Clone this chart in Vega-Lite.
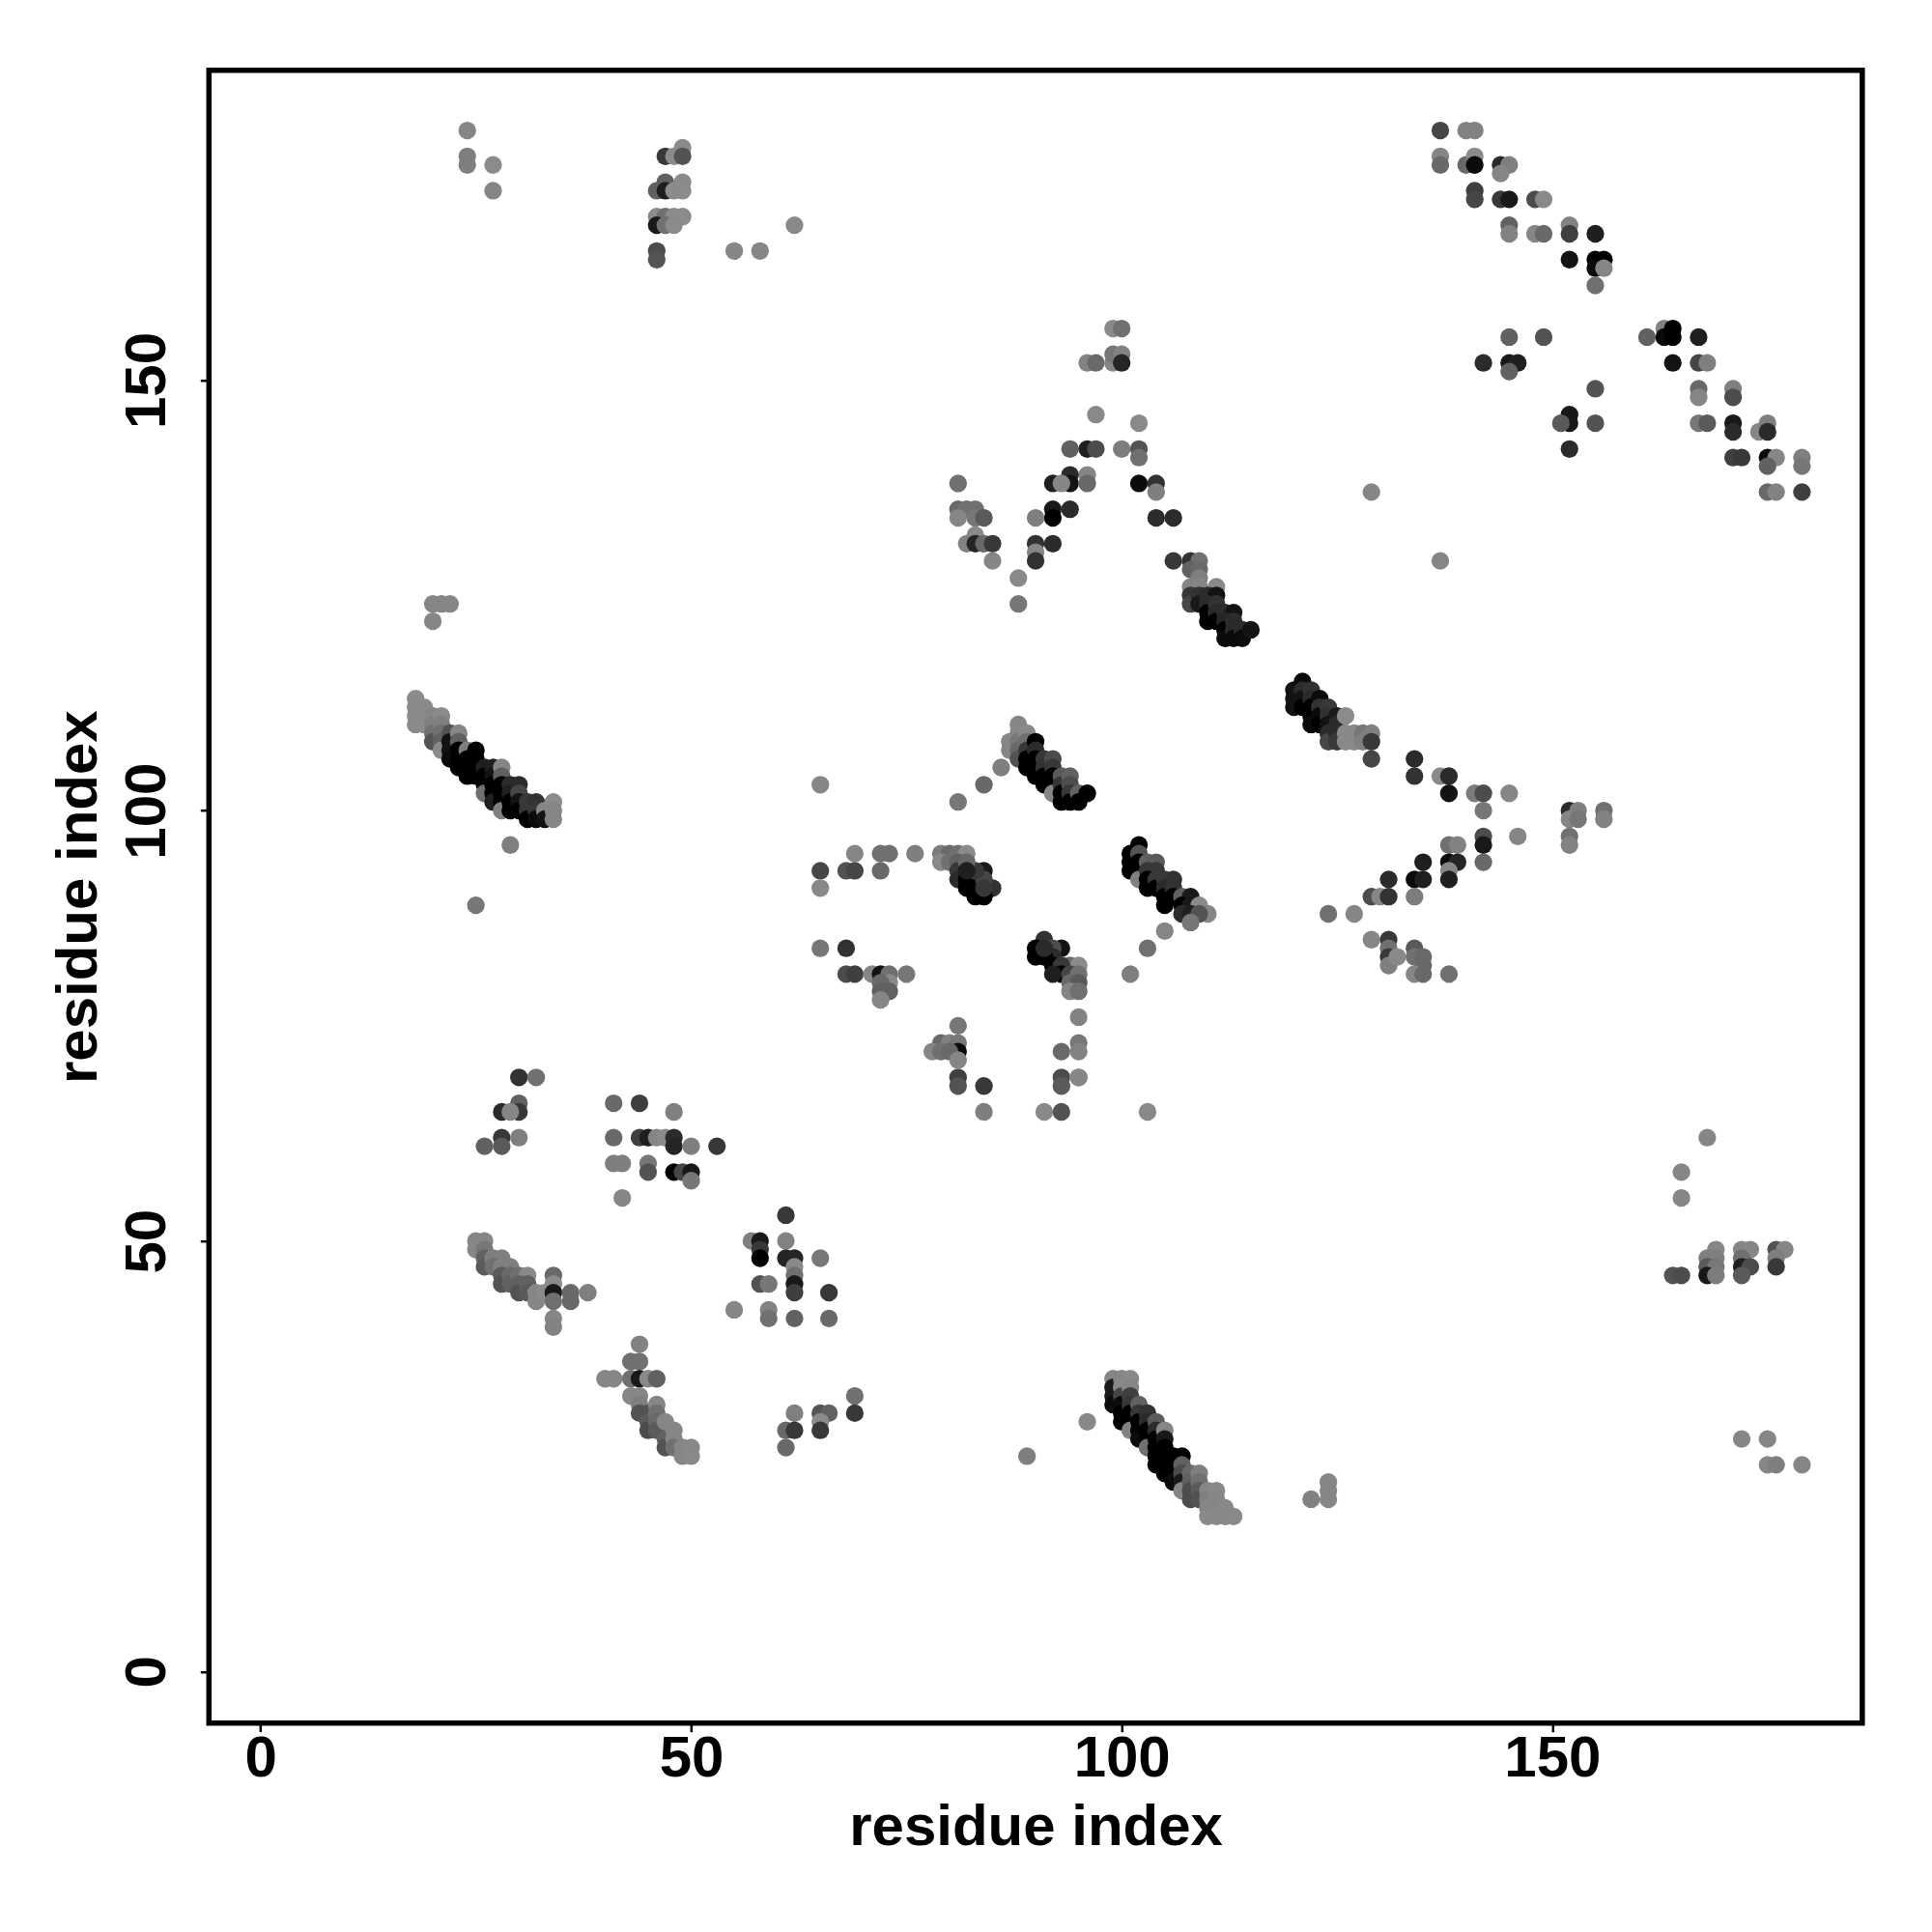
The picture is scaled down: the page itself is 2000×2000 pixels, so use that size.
{"$schema":"https://vega.github.io/schema/vega-lite/v6.json","autosize":{"type":"none"},"padding":{"left":216.3,"top":72.7,"right":72,"bottom":215},"width":1711.5,"height":1711,"background":"white",
"config":{"view":{"stroke":"black","strokeWidth":5.5,"fill":"white"},"axis":{"grid":false,"domain":false,"ticks":true,"tickSize":9,"tickWidth":2.5,"tickColor":"black","labelFont":"Liberation Sans","labelFontWeight":"bold","labelFontSize":60,"labelColor":"black","titleFont":"Liberation Sans","titleFontWeight":"bold","titleFontSize":60,"titleColor":"black","labelOverlap":false,"labelFlush":false}},
"data":{"values":[
{"i":24,"j":179,"s":0.05},{"i":24,"j":176,"s":0.1},{"i":24,"j":175,"s":0.1},{"i":27,"j":175,"s":0.02},{"i":27,"j":172,"s":0.05},
{"i":49,"j":177,"s":0.02},{"i":47,"j":176,"s":0.6},{"i":48,"j":176,"s":0.02},{"i":49,"j":176,"s":0.4},
{"i":47,"j":173,"s":0.3},{"i":49,"j":173,"s":0.02},{"i":46,"j":172,"s":0.3},{"i":47,"j":172,"s":0.8},{"i":48,"j":172,"s":0.02},{"i":49,"j":172,"s":0.02},
{"i":46,"j":169,"s":0.02},{"i":47,"j":169,"s":0.2},{"i":48,"j":169,"s":0.02},{"i":49,"j":169,"s":0.02},{"i":46,"j":168,"s":0.85},{"i":47,"j":168,"s":0.2},{"i":48,"j":168,"s":0.02},
{"i":46,"j":165,"s":0.45},{"i":46,"j":164,"s":0.4},{"i":62,"j":168,"s":0.03},{"i":55,"j":165,"s":0.05},{"i":58,"j":165,"s":0.05},
{"i":20,"j":124,"s":0.05},{"i":21,"j":124,"s":0.05},{"i":22,"j":124,"s":0.05},{"i":20,"j":122,"s":0.05},
{"i":18,"j":113,"s":0.02},{"i":18,"j":112,"s":0.02},{"i":18,"j":111,"s":0.02},{"i":18,"j":110,"s":0.02},{"i":19,"j":112,"s":0.02},{"i":19,"j":111,"s":0.02},{"i":19,"j":110,"s":0.02},
{"i":20,"j":111,"s":0.05},{"i":20,"j":110,"s":0.1},{"i":20,"j":109,"s":0.2},{"i":20,"j":108,"s":0.4},{"i":21,"j":111,"s":0.02},{"i":21,"j":110,"s":0.1},{"i":21,"j":109,"s":0.2},{"i":21,"j":108,"s":0.3},{"i":21,"j":107,"s":0.02},
{"i":22,"j":109,"s":0.4},{"i":22,"j":108,"s":0.9},{"i":22,"j":107,"s":0.9},{"i":22,"j":106,"s":0.95},{"i":23,"j":109,"s":0.05},{"i":23,"j":108,"s":0.3},{"i":23,"j":107,"s":1},{"i":23,"j":106,"s":1},{"i":23,"j":105,"s":1},
{"i":24,"j":107,"s":0.1},{"i":24,"j":106,"s":1},{"i":24,"j":105,"s":1},{"i":24,"j":104,"s":1},{"i":25,"j":107,"s":1},{"i":25,"j":106,"s":1},{"i":25,"j":105,"s":1},{"i":25,"j":104,"s":1},
{"i":26,"j":105,"s":0.8},{"i":26,"j":104,"s":1},{"i":26,"j":103,"s":1},{"i":26,"j":102,"s":0.2},{"i":27,"j":105,"s":0.8},{"i":27,"j":104,"s":0.9},{"i":27,"j":103,"s":1},{"i":27,"j":102,"s":1},{"i":27,"j":101,"s":0.8},
{"i":28,"j":105,"s":0.05},{"i":28,"j":104,"s":0.3},{"i":28,"j":103,"s":1},{"i":28,"j":102,"s":1},{"i":28,"j":101,"s":1},{"i":28,"j":100,"s":0.1},
{"i":29,"j":103,"s":0.7},{"i":29,"j":102,"s":0.8},{"i":29,"j":101,"s":1},{"i":29,"j":100,"s":1},{"i":30,"j":103,"s":0.7},{"i":30,"j":102,"s":0.5},{"i":30,"j":101,"s":0.9},{"i":30,"j":100,"s":1},
{"i":31,"j":101,"s":0.6},{"i":31,"j":100,"s":0.6},{"i":31,"j":99,"s":1},{"i":32,"j":101,"s":0.65},{"i":32,"j":100,"s":0.6},{"i":32,"j":99,"s":0.95},{"i":33,"j":100,"s":0.05},{"i":33,"j":99,"s":0.9},{"i":34,"j":101,"s":0.02},{"i":34,"j":100,"s":0.05},{"i":34,"j":99,"s":0.05},
{"i":29,"j":96,"s":0.1},{"i":25,"j":89,"s":0.15},
{"i":30,"j":69,"s":0.65},{"i":32,"j":69,"s":0.2},{"i":30,"j":66,"s":0.3},{"i":30,"j":65,"s":0.6},{"i":28,"j":65,"s":0.7},{"i":29,"j":65,"s":0.05},{"i":28,"j":62,"s":0.6},{"i":30,"j":62,"s":0.1},{"i":28,"j":61,"s":0.35},{"i":26,"j":61,"s":0.3},
{"i":41,"j":66,"s":0.25},{"i":44,"j":66,"s":0.55},{"i":48,"j":65,"s":0.1},{"i":41,"j":62,"s":0.25},{"i":44,"j":62,"s":0.55},{"i":45,"j":62,"s":0.8},{"i":46,"j":62,"s":0.05},{"i":47,"j":62,"s":0.02},{"i":48,"j":62,"s":0.7},{"i":48,"j":61,"s":0.75},{"i":50,"j":61,"s":0.1},{"i":53,"j":61,"s":0.6},
{"i":41,"j":59,"s":0.1},{"i":42,"j":59,"s":0.1},{"i":45,"j":59,"s":0.15},{"i":45,"j":58,"s":0.4},{"i":48,"j":58,"s":1},{"i":49,"j":58,"s":0.5},{"i":50,"j":58,"s":0.85},{"i":50,"j":57,"s":0.15},{"i":42,"j":55,"s":0.05},
{"i":61,"j":53,"s":0.6},{"i":57,"j":50,"s":0.1},{"i":58,"j":50,"s":0.85},{"i":61,"j":50,"s":0.08},{"i":58,"j":49,"s":0.6},{"i":58,"j":48,"s":1},{"i":61,"j":48,"s":0.75},{"i":62,"j":48,"s":0.75},{"i":65,"j":48,"s":0.15},
{"i":62,"j":47,"s":0.03},{"i":62,"j":46,"s":0.2},{"i":58,"j":45,"s":0.4},{"i":59,"j":45,"s":0.15},{"i":62,"j":45,"s":0.85},{"i":62,"j":44,"s":0.55},{"i":66,"j":44,"s":0.6},{"i":55,"j":42,"s":0.05},{"i":59,"j":42,"s":0.08},{"i":59,"j":41,"s":0.2},{"i":62,"j":41,"s":0.3},{"i":66,"j":41,"s":0.25},
{"i":25,"j":50,"s":0.05},{"i":26,"j":50,"s":0.05},{"i":25,"j":49,"s":0.05},{"i":26,"j":49,"s":0.15},{"i":26,"j":48,"s":0.3},{"i":26,"j":47,"s":0.35},{"i":27,"j":48,"s":0.1},{"i":28,"j":48,"s":0.1},{"i":27,"j":47,"s":0.2},{"i":28,"j":47,"s":0.1},{"i":29,"j":47,"s":0.1},
{"i":28,"j":46,"s":0.35},{"i":28,"j":45,"s":0.4},{"i":29,"j":46,"s":0.25},{"i":29,"j":45,"s":0.3},{"i":30,"j":46,"s":0.2},{"i":31,"j":46,"s":0.03},{"i":30,"j":45,"s":0.3},{"i":30,"j":44,"s":0.4},{"i":31,"j":45,"s":0.3},{"i":31,"j":44,"s":0.35},
{"i":32,"j":44,"s":0.05},{"i":32,"j":43,"s":0.05},{"i":33,"j":44,"s":0.02},{"i":34,"j":46,"s":0.25},{"i":34,"j":45,"s":0.02},{"i":34,"j":44,"s":0.85},{"i":34,"j":43,"s":0.2},{"i":34,"j":41,"s":0.05},{"i":34,"j":40,"s":0.08},{"i":36,"j":44,"s":0.25},{"i":36,"j":43,"s":0.25},{"i":38,"j":44,"s":0.1},
{"i":44,"j":38,"s":0.08},{"i":43,"j":36,"s":0.2},{"i":44,"j":36,"s":0.2},{"i":40,"j":34,"s":0.05},{"i":41,"j":34,"s":0.05},{"i":43,"j":34,"s":0.2},{"i":44,"j":34,"s":0.85},{"i":45,"j":34,"s":0.03},{"i":46,"j":34,"s":0.3},
{"i":43,"j":32,"s":0.05},{"i":44,"j":32,"s":0.05},{"i":44,"j":31,"s":0.1},{"i":44,"j":30,"s":0.4},{"i":45,"j":30,"s":0.4},{"i":45,"j":29,"s":0.35},{"i":45,"j":28,"s":0.45},{"i":46,"j":31,"s":0.05},{"i":46,"j":30,"s":0.2},{"i":46,"j":29,"s":0.25},{"i":46,"j":28,"s":0.35},{"i":47,"j":29,"s":0.05},{"i":47,"j":27,"s":0.3},{"i":47,"j":26,"s":0.4},{"i":48,"j":28,"s":0.05},{"i":48,"j":27,"s":0.05},{"i":48,"j":26,"s":0.2},{"i":49,"j":26,"s":0.05},{"i":49,"j":25,"s":0.05},{"i":50,"j":26,"s":0.03},{"i":50,"j":25,"s":0.03},
{"i":69,"j":32,"s":0.2},{"i":69,"j":30,"s":0.6},{"i":62,"j":30,"s":0.1},{"i":65,"j":30,"s":0.4},{"i":66,"j":30,"s":0.3},{"i":65,"j":29,"s":0.02},{"i":65,"j":28,"s":0.6},{"i":61,"j":28,"s":0.25},{"i":62,"j":28,"s":0.6},{"i":61,"j":26,"s":0.25},
{"i":81,"j":69,"s":0.55},{"i":81,"j":68,"s":0.4},{"i":84,"j":68,"s":0.6},{"i":84,"j":65,"s":0.1},{"i":91,"j":65,"s":0.03},{"i":93,"j":65,"s":0.4},{"i":93,"j":69,"s":0.45},{"i":93,"j":68,"s":0.35},{"i":95,"j":69,"s":0.05},{"i":103,"j":65,"s":0.03},{"i":96,"j":29,"s":0.03},{"i":89,"j":25,"s":0.1},
{"i":99,"j":34,"s":0.05},{"i":99,"j":33,"s":0.85},{"i":99,"j":32,"s":0.85},{"i":99,"j":31,"s":0.95},{"i":100,"j":34,"s":0.05},{"i":100,"j":33,"s":0.03},{"i":100,"j":32,"s":0.5},{"i":100,"j":31,"s":0.95},{"i":100,"j":30,"s":1},{"i":100,"j":29,"s":1},
{"i":101,"j":34,"s":0.03},{"i":101,"j":33,"s":0.05},{"i":101,"j":32,"s":0.55},{"i":101,"j":31,"s":0.6},{"i":101,"j":30,"s":1},{"i":101,"j":29,"s":1},{"i":101,"j":28,"s":0.08},{"i":102,"j":31,"s":0.3},{"i":102,"j":30,"s":0.6},{"i":102,"j":29,"s":1},{"i":102,"j":28,"s":1},{"i":102,"j":27,"s":0.95},
{"i":103,"j":30,"s":0.65},{"i":103,"j":29,"s":0.7},{"i":103,"j":28,"s":1},{"i":103,"j":27,"s":1},{"i":103,"j":26,"s":0.2},{"i":104,"j":29,"s":0.35},{"i":104,"j":28,"s":0.7},{"i":104,"j":27,"s":1},{"i":104,"j":26,"s":1},{"i":104,"j":25,"s":1},{"i":104,"j":24,"s":1},
{"i":105,"j":28,"s":0.05},{"i":105,"j":27,"s":0.85},{"i":105,"j":26,"s":1},{"i":105,"j":25,"s":1},{"i":105,"j":24,"s":1},{"i":105,"j":23,"s":1},{"i":106,"j":25,"s":1},{"i":106,"j":24,"s":1},{"i":106,"j":23,"s":1},{"i":106,"j":22,"s":0.95},{"i":107,"j":25,"s":1},{"i":107,"j":24,"s":0.3},{"i":107,"j":23,"s":0.45},{"i":107,"j":22,"s":0.85},{"i":107,"j":21,"s":0.05},
{"i":108,"j":23,"s":0.25},{"i":108,"j":22,"s":0.3},{"i":108,"j":21,"s":0.45},{"i":108,"j":20,"s":0.45},{"i":109,"j":23,"s":0.1},{"i":109,"j":22,"s":0.2},{"i":109,"j":21,"s":0.35},{"i":109,"j":20,"s":0.4},{"i":110,"j":21,"s":0.05},{"i":110,"j":20,"s":0.1},{"i":110,"j":19,"s":0.05},{"i":110,"j":18,"s":0.03},{"i":111,"j":21,"s":0.03},{"i":111,"j":20,"s":0.05},{"i":111,"j":19,"s":0.05},{"i":111,"j":18,"s":0.03},{"i":112,"j":19,"s":0.03},{"i":112,"j":18,"s":0.03},{"i":113,"j":18,"s":0.03},
{"i":122,"j":20,"s":0.08},{"i":124,"j":22,"s":0.05},{"i":124,"j":21,"s":0.05},{"i":124,"j":20,"s":0.05},
{"i":65,"j":103,"s":0.05},{"i":86,"j":105,"s":0.1},{"i":84,"j":103,"s":0.25},{"i":81,"j":101,"s":0.15},
{"i":69,"j":95,"s":0.05},{"i":72,"j":95,"s":0.2},{"i":73,"j":95,"s":0.2},{"i":76,"j":95,"s":0.1},{"i":79,"j":95,"s":0.12},{"i":80,"j":95,"s":0.25},{"i":81,"j":95,"s":0.2},{"i":82,"j":95,"s":0.02},{"i":65,"j":93,"s":0.5},{"i":68,"j":93,"s":0.4},{"i":69,"j":93,"s":0.5},{"i":72,"j":93,"s":0.25},{"i":65,"j":91,"s":0.03},{"i":79,"j":94,"s":0.03},{"i":80,"j":94,"s":0.2},{"i":81,"j":94,"s":0.3},{"i":81,"j":93,"s":0.6},{"i":84,"j":93,"s":0.85},{"i":81,"j":92,"s":0.7},{"i":85,"j":91,"s":0.65},{"i":83,"j":90,"s":1},{"i":84,"j":90,"s":1},{"i":82,"j":92,"s":1},{"i":82,"j":91,"s":1},{"i":83,"j":91,"s":1},{"i":84,"j":92,"s":0.5},{"i":84,"j":91,"s":0.6},{"i":83,"j":93,"s":0.6},{"i":82,"j":94,"s":0.25},{"i":82,"j":93,"s":0.8},
{"i":65,"j":84,"s":0.15},{"i":68,"j":84,"s":0.65},{"i":68,"j":81,"s":0.45},{"i":69,"j":81,"s":0.55},{"i":71,"j":81,"s":0.05},{"i":72,"j":81,"s":0.9},{"i":73,"j":81,"s":0.2},{"i":75,"j":81,"s":0.15},{"i":73,"j":80,"s":0.03},{"i":72,"j":80,"s":0.25},{"i":72,"j":79,"s":0.3},{"i":73,"j":79,"s":0.3},{"i":72,"j":78,"s":0.05},
{"i":81,"j":75,"s":0.15},{"i":79,"j":73,"s":0.25},{"i":80,"j":73,"s":0.1},{"i":81,"j":73,"s":0.15},{"i":81,"j":72,"s":0.95},{"i":78,"j":72,"s":0.05},{"i":79,"j":72,"s":0.2},{"i":80,"j":72,"s":0.25},{"i":81,"j":71,"s":0.05},{"i":93,"j":72,"s":0.25},{"i":95,"j":73,"s":0.15},{"i":95,"j":72,"s":0.08},{"i":95,"j":76,"s":0.08},{"i":95,"j":69,"s":0.05},
{"i":91,"j":85,"s":0.65},{"i":90,"j":84,"s":1},{"i":93,"j":84,"s":0.9},{"i":90,"j":83,"s":1},{"i":92,"j":84,"s":0.45},{"i":92,"j":83,"s":0.7},{"i":91,"j":83,"s":1},{"i":91,"j":84,"s":0.7},{"i":92,"j":82,"s":1},{"i":94,"j":82,"s":0.25},{"i":95,"j":82,"s":0.02},{"i":93,"j":82,"s":0.6},{"i":93,"j":81,"s":1},{"i":92,"j":81,"s":0.8},{"i":94,"j":81,"s":0.5},{"i":95,"j":81,"s":0.2},{"i":94,"j":80,"s":0.25},{"i":95,"j":80,"s":0.35},{"i":94,"j":79,"s":0.05},{"i":95,"j":79,"s":0.2},
{"i":102,"j":96,"s":1},{"i":101,"j":95,"s":1},{"i":101,"j":94,"s":1},{"i":101,"j":93,"s":1},{"i":102,"j":95,"s":0.4},{"i":102,"j":94,"s":1},{"i":102,"j":93,"s":1},{"i":102,"j":92,"s":0.1},{"i":103,"j":94,"s":0.3},{"i":104,"j":94,"s":0.35},{"i":103,"j":93,"s":0.6},{"i":104,"j":93,"s":0.6},{"i":103,"j":92,"s":1},{"i":103,"j":91,"s":1},{"i":104,"j":92,"s":0.6},{"i":104,"j":91,"s":1},{"i":105,"j":92,"s":0.6},{"i":106,"j":92,"s":0.65},{"i":105,"j":91,"s":0.7},{"i":105,"j":90,"s":1},{"i":105,"j":89,"s":1},{"i":106,"j":91,"s":0.65},{"i":106,"j":90,"s":1},{"i":107,"j":90,"s":0.3},{"i":108,"j":90,"s":0.85},{"i":107,"j":89,"s":1},{"i":108,"j":89,"s":0.85},{"i":109,"j":89,"s":0.02},{"i":107,"j":88,"s":0.7},{"i":108,"j":88,"s":0.8},{"i":110,"j":88,"s":0.05},{"i":109,"j":88,"s":0.4},{"i":108,"j":87,"s":0.15},{"i":105,"j":86,"s":0.05},{"i":103,"j":84,"s":0.2},{"i":101,"j":81,"s":0.1},
{"i":87,"j":108,"s":0.05},{"i":87,"j":107,"s":0.05},{"i":88,"j":110,"s":0.05},{"i":88,"j":109,"s":0.05},{"i":88,"j":108,"s":0.15},{"i":88,"j":107,"s":0.25},{"i":88,"j":106,"s":0.4},{"i":89,"j":109,"s":0.03},{"i":89,"j":108,"s":0.2},{"i":89,"j":107,"s":0.6},{"i":89,"j":106,"s":1},{"i":89,"j":105,"s":1},{"i":90,"j":108,"s":1},{"i":90,"j":107,"s":0.7},{"i":90,"j":106,"s":1},{"i":90,"j":105,"s":1},{"i":90,"j":104,"s":1},{"i":91,"j":106,"s":0.6},{"i":91,"j":105,"s":0.65},{"i":91,"j":104,"s":1},{"i":91,"j":103,"s":1},{"i":92,"j":106,"s":0.45},{"i":92,"j":105,"s":0.6},{"i":92,"j":104,"s":1},{"i":92,"j":103,"s":1},{"i":92,"j":102,"s":0.05},{"i":93,"j":104,"s":0.35},{"i":93,"j":103,"s":0.6},{"i":93,"j":102,"s":1},{"i":93,"j":101,"s":1},{"i":94,"j":104,"s":0.3},{"i":94,"j":103,"s":0.45},{"i":94,"j":102,"s":0.6},{"i":94,"j":101,"s":1},{"i":95,"j":102,"s":0.3},{"i":95,"j":101,"s":1},{"i":96,"j":102,"s":1},
{"i":99,"j":156,"s":0.03},{"i":100,"j":156,"s":0.2},{"i":96,"j":152,"s":0.08},{"i":97,"j":152,"s":0.25},{"i":99,"j":152,"s":0.05},{"i":99,"j":153,"s":0.15},{"i":100,"j":153,"s":0.08},{"i":100,"j":152,"s":0.75},{"i":97,"j":146,"s":0.03},{"i":102,"j":145,"s":0.03},{"i":94,"j":142,"s":0.3},{"i":96,"j":142,"s":0.8},{"i":97,"j":142,"s":0.45},{"i":100,"j":142,"s":0.12},{"i":102,"j":142,"s":0.4},{"i":102,"j":141,"s":0.2},
{"i":96,"j":139,"s":0.05},{"i":94,"j":139,"s":0.7},{"i":94,"j":138,"s":0.9},{"i":92,"j":138,"s":0.8},{"i":93,"j":138,"s":0.05},{"i":96,"j":138,"s":0.25},{"i":102,"j":138,"s":0.95},{"i":104,"j":138,"s":0.65},{"i":104,"j":137,"s":0.1},{"i":92,"j":135,"s":0.85},{"i":92,"j":134,"s":1},{"i":94,"j":135,"s":0.7},{"i":90,"j":134,"s":0.1},{"i":104,"j":134,"s":0.7},{"i":106,"j":134,"s":0.7},
{"i":81,"j":138,"s":0.2},{"i":81,"j":135,"s":0.25},{"i":82,"j":135,"s":0.2},{"i":83,"j":135,"s":0.2},{"i":81,"j":134,"s":0.05},{"i":83,"j":134,"s":0.15},{"i":84,"j":134,"s":0.35},{"i":83,"j":132,"s":0.03},{"i":82,"j":131,"s":0.08},{"i":83,"j":131,"s":0.75},{"i":84,"j":131,"s":0.25},{"i":85,"j":131,"s":0.6},{"i":85,"j":129,"s":0.05},{"i":90,"j":131,"s":0.65},{"i":92,"j":131,"s":0.7},{"i":90,"j":130,"s":0.05},{"i":90,"j":129,"s":0.65},{"i":88,"j":127,"s":0.03},{"i":88,"j":124,"s":0.15},
{"i":106,"j":129,"s":0.6},{"i":108,"j":129,"s":0.65},{"i":109,"j":129,"s":0.2},{"i":108,"j":128,"s":0.3},{"i":109,"j":128,"s":0.25},{"i":108,"j":126,"s":0.05},{"i":109,"j":127,"s":0.1},{"i":109,"j":126,"s":0.05},{"i":111,"j":126,"s":0.03},{"i":108,"j":125,"s":0.6},{"i":108,"j":124,"s":0.5},{"i":109,"j":125,"s":0.65},{"i":109,"j":124,"s":0.85},{"i":110,"j":125,"s":0.7},{"i":111,"j":125,"s":0.9},{"i":110,"j":124,"s":0.7},{"i":110,"j":123,"s":1},{"i":110,"j":122,"s":1},{"i":111,"j":124,"s":0.65},{"i":111,"j":123,"s":0.7},{"i":111,"j":122,"s":1},{"i":112,"j":123,"s":0.7},{"i":113,"j":123,"s":0.9},{"i":112,"j":122,"s":0.75},{"i":112,"j":121,"s":1},{"i":112,"j":120,"s":0.95},{"i":113,"j":122,"s":0.7},{"i":113,"j":121,"s":0.7},{"i":113,"j":120,"s":0.95},{"i":114,"j":121,"s":0.7},{"i":114,"j":120,"s":0.95},{"i":115,"j":121,"s":0.9},
{"i":120,"j":114,"s":0.9},{"i":120,"j":113,"s":0.9},{"i":120,"j":112,"s":0.9},{"i":121,"j":115,"s":0.95},{"i":121,"j":114,"s":0.7},{"i":121,"j":113,"s":0.9},{"i":121,"j":112,"s":1},{"i":122,"j":114,"s":0.65},{"i":122,"j":113,"s":0.7},{"i":122,"j":112,"s":1},{"i":122,"j":111,"s":1},{"i":122,"j":110,"s":0.95},{"i":123,"j":113,"s":0.95},{"i":123,"j":112,"s":0.65},{"i":123,"j":111,"s":0.95},{"i":123,"j":110,"s":1},{"i":124,"j":112,"s":0.6},{"i":124,"j":111,"s":0.65},{"i":124,"j":110,"s":0.9},{"i":124,"j":109,"s":0.7},{"i":124,"j":108,"s":0.5},{"i":125,"j":111,"s":0.85},{"i":125,"j":110,"s":0.7},{"i":125,"j":109,"s":0.7},{"i":125,"j":108,"s":0.6},{"i":126,"j":111,"s":0.02},{"i":126,"j":109,"s":0.03},{"i":126,"j":108,"s":0.03},{"i":127,"j":109,"s":0.03},{"i":127,"j":108,"s":0.03},{"i":128,"j":109,"s":0.15},{"i":128,"j":108,"s":0.1},{"i":129,"j":109,"s":0.1},{"i":129,"j":108,"s":0.6},{"i":129,"j":106,"s":0.5},
{"i":134,"j":106,"s":0.7},{"i":134,"j":104,"s":0.65},{"i":137,"j":104,"s":0.03},{"i":138,"j":104,"s":0.7},{"i":138,"j":102,"s":0.9},{"i":141,"j":102,"s":0.12},{"i":142,"j":102,"s":0.45},{"i":145,"j":102,"s":0.05},{"i":142,"j":100,"s":0.15},{"i":152,"j":100,"s":0.7},{"i":153,"j":100,"s":0.1},{"i":152,"j":99,"s":0.05},{"i":153,"j":99,"s":0.15},{"i":156,"j":100,"s":0.2},{"i":156,"j":99,"s":0.08},{"i":142,"j":97,"s":0.45},{"i":142,"j":96,"s":0.85},{"i":146,"j":97,"s":0.05},{"i":152,"j":97,"s":0.2},{"i":152,"j":96,"s":0.08},{"i":138,"j":96,"s":0.2},{"i":139,"j":96,"s":0.08},{"i":142,"j":94,"s":0.25},{"i":138,"j":94,"s":0.95},{"i":139,"j":94,"s":0.75},{"i":135,"j":94,"s":0.8},{"i":134,"j":92,"s":0.95},{"i":135,"j":92,"s":0.8},{"i":138,"j":93,"s":0.05},{"i":138,"j":92,"s":0.8},{"i":131,"j":92,"s":0.7},{"i":129,"j":90,"s":0.45},{"i":130,"j":90,"s":0.05},{"i":131,"j":90,"s":0.65},{"i":134,"j":90,"s":0.12},{"i":124,"j":88,"s":0.2},{"i":127,"j":88,"s":0.05},{"i":129,"j":85,"s":0.05},{"i":131,"j":85,"s":0.6},{"i":131,"j":84,"s":0.2},{"i":131,"j":83,"s":0.6},{"i":131,"j":82,"s":0.1},{"i":132,"j":83,"s":0.03},{"i":134,"j":84,"s":0.35},{"i":134,"j":83,"s":0.2},{"i":135,"j":83,"s":0.25},{"i":135,"j":82,"s":0.25},{"i":134,"j":81,"s":0.05},{"i":135,"j":81,"s":0.25},{"i":138,"j":81,"s":0.2},
{"i":137,"j":179,"s":0.5},{"i":140,"j":179,"s":0.08},{"i":141,"j":179,"s":0.08},{"i":137,"j":176,"s":0.05},{"i":137,"j":175,"s":0.25},{"i":140,"j":175,"s":0.25},{"i":141,"j":176,"s":0.02},{"i":141,"j":175,"s":0.95},{"i":144,"j":175,"s":0.7},{"i":145,"j":175,"s":0.1},{"i":144,"j":174,"s":0.05},{"i":141,"j":172,"s":0.55},{"i":141,"j":171,"s":0.5},{"i":144,"j":171,"s":0.6},{"i":145,"j":171,"s":0.85},{"i":148,"j":171,"s":0.45},{"i":149,"j":171,"s":0.03},{"i":145,"j":168,"s":0.3},{"i":145,"j":167,"s":0.08},{"i":148,"j":167,"s":0.05},{"i":149,"j":167,"s":0.25},{"i":152,"j":168,"s":0.08},{"i":152,"j":167,"s":0.55},{"i":155,"j":167,"s":0.8},
{"i":152,"j":164,"s":0.9},{"i":155,"j":164,"s":1},{"i":156,"j":164,"s":1},{"i":155,"j":163,"s":0.95},{"i":156,"j":163,"s":0.05},{"i":155,"j":161,"s":0.2},{"i":145,"j":155,"s":0.3},{"i":149,"j":155,"s":0.4},{"i":142,"j":152,"s":0.7},{"i":145,"j":152,"s":0.85},{"i":146,"j":152,"s":0.8},{"i":145,"j":151,"s":0.3},{"i":155,"j":149,"s":0.4},{"i":152,"j":146,"s":0.85},{"i":152,"j":145,"s":0.85},{"i":151,"j":145,"s":0.35},{"i":155,"j":145,"s":0.4},{"i":152,"j":142,"s":0.7},
{"i":161,"j":155,"s":0.3},{"i":163,"j":156,"s":0.08},{"i":163,"j":155,"s":0.95},{"i":164,"j":156,"s":1},{"i":164,"j":155,"s":1},{"i":167,"j":155,"s":0.8},{"i":164,"j":152,"s":0.9},{"i":167,"j":152,"s":0.5},{"i":168,"j":152,"s":0.1},{"i":167,"j":149,"s":0.25},{"i":167,"j":148,"s":0.05},{"i":171,"j":149,"s":0.1},{"i":171,"j":148,"s":0.45},{"i":167,"j":145,"s":0.15},{"i":168,"j":145,"s":0.35},{"i":171,"j":145,"s":0.85},{"i":171,"j":144,"s":0.7},{"i":174,"j":144,"s":0.05},{"i":175,"j":145,"s":0.1},{"i":175,"j":144,"s":0.7},{"i":171,"j":141,"s":0.55},{"i":172,"j":141,"s":0.6},{"i":175,"j":141,"s":0.95},{"i":176,"j":141,"s":0.05},{"i":175,"j":140,"s":0.3},{"i":179,"j":141,"s":0.1},{"i":179,"j":140,"s":0.15},{"i":175,"j":137,"s":0.25},{"i":176,"j":137,"s":0.08},{"i":179,"j":137,"s":0.55},
{"i":129,"j":137,"s":0.05},{"i":137,"j":129,"s":0.05},
{"i":168,"j":62,"s":0.05},{"i":165,"j":58,"s":0.05},{"i":165,"j":55,"s":0.05},{"i":164,"j":46,"s":0.4},{"i":165,"j":46,"s":0.45},{"i":169,"j":49,"s":0.05},{"i":168,"j":48,"s":0.1},{"i":169,"j":48,"s":0.1},{"i":168,"j":47,"s":0.35},{"i":169,"j":47,"s":0.15},{"i":168,"j":46,"s":0.85},{"i":169,"j":46,"s":0.12},{"i":172,"j":49,"s":0.05},{"i":173,"j":49,"s":0.05},{"i":172,"j":48,"s":0.2},{"i":172,"j":47,"s":0.8},{"i":173,"j":47,"s":0.45},{"i":172,"j":46,"s":0.35},{"i":176,"j":49,"s":0.4},{"i":177,"j":49,"s":0.05},{"i":176,"j":48,"s":0.1},{"i":176,"j":47,"s":0.6},
{"i":172,"j":27,"s":0.05},{"i":175,"j":27,"s":0.05},{"i":175,"j":24,"s":0.05},{"i":176,"j":24,"s":0.1},{"i":179,"j":24,"s":0.05}
]},
"mark":{"type":"point","shape":"circle","filled":true,"opacity":1,"size":335,"strokeWidth":0},
"encoding":{
"x":{"field":"i","type":"quantitative","title":"residue index","scale":{"domain":[-6,186],"nice":false,"zero":false},"axis":{"values":[0,50,100,150],"labelPadding":46,"labelBaseline":"alphabetic","titleY":125.5,"titleBaseline":"alphabetic"}},
"y":{"field":"j","type":"quantitative","title":"residue index","scale":{"domain":[-6,186],"nice":false,"zero":false},"axis":{"values":[0,50,100,150],"labelAngle":270,"labelAlign":"center","labelBaseline":"alphabetic","labelPadding":36.5,"titleX":-117,"titleBaseline":"alphabetic"}},
"color":{"field":"s","type":"quantitative","scale":{"domain":[0,1],"range":["#8e8e8e","#000000"]},"legend":null},
"order":[{"field":"i","type":"quantitative"},{"field":"j","type":"quantitative"}]
}}
